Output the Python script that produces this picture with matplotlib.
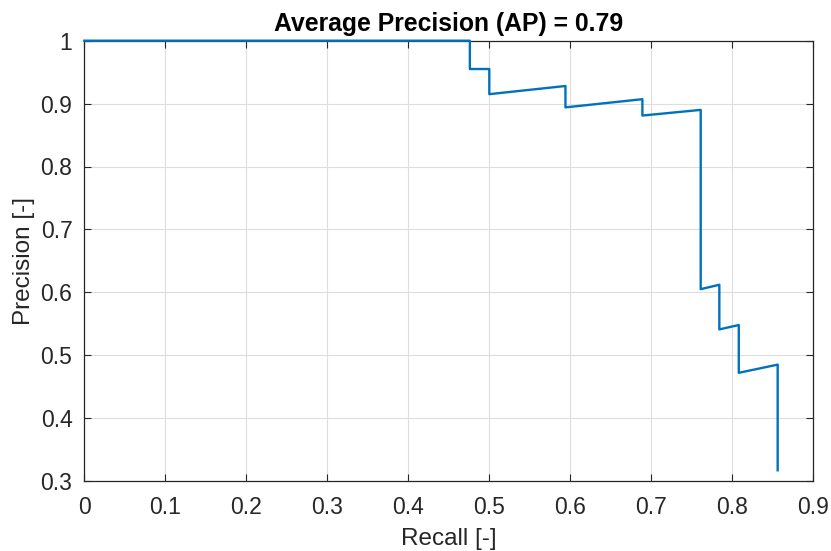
import matplotlib
matplotlib.use("Agg")
import matplotlib.pyplot as plt

# precision-recall curve vertices
recall = [0.0, 0.476, 0.476, 0.500, 0.500, 0.594, 0.594, 0.689, 0.689,
          0.761, 0.761, 0.784, 0.784, 0.808, 0.808, 0.856, 0.856]
precision = [1.0, 1.0, 0.955, 0.955, 0.915, 0.928, 0.894, 0.907, 0.881,
             0.890, 0.605, 0.612, 0.541, 0.548, 0.472, 0.485, 0.317]
ap = 0.79

xticks = [0, 0.1, 0.2, 0.3, 0.4, 0.5, 0.6, 0.7, 0.8, 0.9]
yticks = [0.3, 0.4, 0.5, 0.6, 0.7, 0.8, 0.9, 1]

plt.rcParams["font.family"] = ["Liberation Sans", "DejaVu Sans"]

fig = plt.figure(figsize=(8.31, 5.51), dpi=100)
ax = fig.add_axes([84.3 / 831, 1 - 481 / 551, (813.3 - 84.3) / 831, (481 - 40.7) / 551])

ax.plot(recall, precision, color="#0072BD", lw=1.7, clip_on=False, zorder=3)

ax.set_xlim(0, 0.9)
ax.set_ylim(0.3, 1)
ax.set_xticks(xticks)
ax.set_yticks(yticks)
ax.set_xticklabels(["0" if t == 0 else f"{t:g}" for t in xticks])
ax.set_yticklabels([f"{t:g}" for t in yticks])

dark = "#262626"
ax.tick_params(direction="in", top=True, right=True, length=5, width=0.8,
               colors=dark, labelsize=16.5)
ax.tick_params(axis="x", pad=10.5)
ax.tick_params(axis="y", pad=8.5)
for s in ax.spines.values():
    s.set_color(dark)
    s.set_linewidth(0.9)
ax.grid(True, color="#dedede", lw=0.8)
ax.set_axisbelow(True)

ax.set_xlabel("Recall [-]", fontsize=17.5, color=dark, labelpad=7)
ax.set_ylabel("Precision [-]", fontsize=17.5, color=dark, labelpad=4)
ax.set_title(f"Average Precision (AP) = {ap}", fontsize=17.8, fontweight="bold", pad=7)

fig.savefig("out.png", dpi=100)
